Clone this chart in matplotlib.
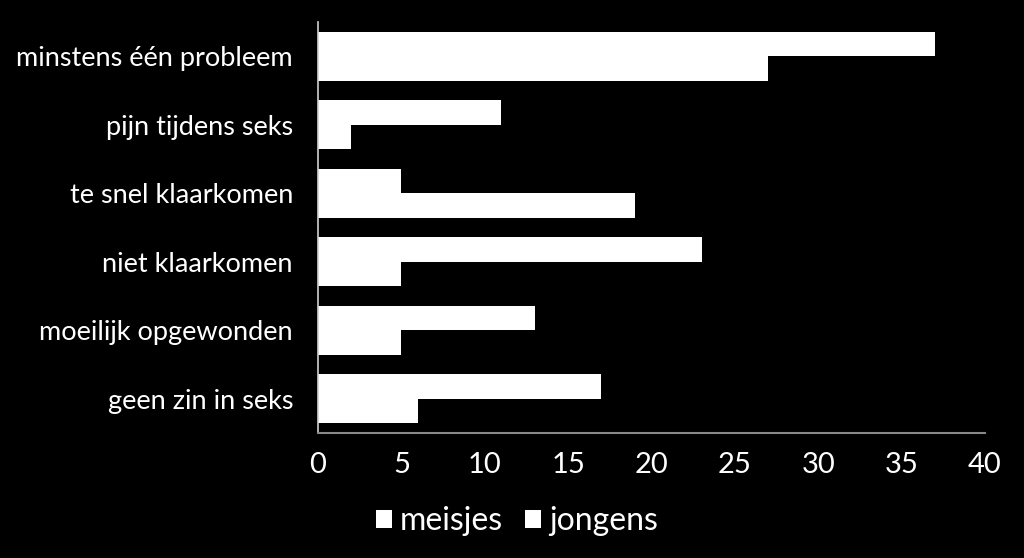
import matplotlib
matplotlib.use("Agg")
import matplotlib.pyplot as plt
import numpy as np
from matplotlib.patches import Patch

categories = ["minstens één probleem", "pijn tijdens seks", "te snel klaarkomen",
              "niet klaarkomen", "moeilijk opgewonden", "geen zin in seks"]
meisjes = [37, 11, 5, 23, 13, 17]
jongens = [27, 2, 19, 5, 5, 6]
xticks = [0, 5, 10, 15, 20, 25, 30, 35, 40]

plt.rcParams['font.family'] = ['Lato', 'DejaVu Sans']

fig = plt.figure(figsize=(10.24, 5.58), dpi=100, facecolor='black')
ax = fig.add_axes([318/1024, 1-433/558, (985-318)/1024, (433-22)/558])
ax.set_facecolor('black')

y = np.arange(len(categories))
h = 0.36
ax.barh(y - h/2, meisjes, height=h, color='white', label='meisjes')
ax.barh(y + h/2, jongens, height=h, color='white', label='jongens')

ax.set_ylim(len(categories) - 0.5, -0.5)
ax.set_xlim(0, 40)
ax.set_xticks(xticks)
ax.set_xticklabels([str(t) for t in xticks])
ax.set_yticks(y)
ax.set_yticklabels(categories)
ax.tick_params(axis='x', colors='white', labelsize=21, length=0, pad=14)
ax.tick_params(axis='y', colors='white', labelsize=19.5, length=0, pad=18)
for s in ['top', 'right']:
    ax.spines[s].set_visible(False)
ax.spines['left'].set_color('#d0d0d0')
ax.spines['bottom'].set_color('#888888')
ax.spines['left'].set_linewidth(1.2)
ax.spines['bottom'].set_linewidth(1.5)

handles = [Patch(facecolor='white', label='meisjes'), Patch(facecolor='white', label='jongens')]
fig.legend(handles=handles, loc='center', bbox_to_anchor=(517/1024, 1-521/558), ncol=2,
           frameon=False, fontsize=23, labelcolor='white', handlelength=0.5, handleheight=0.5,
           handletextpad=0.25, columnspacing=0.7)

fig.savefig('out.png', dpi=100, facecolor='black')
